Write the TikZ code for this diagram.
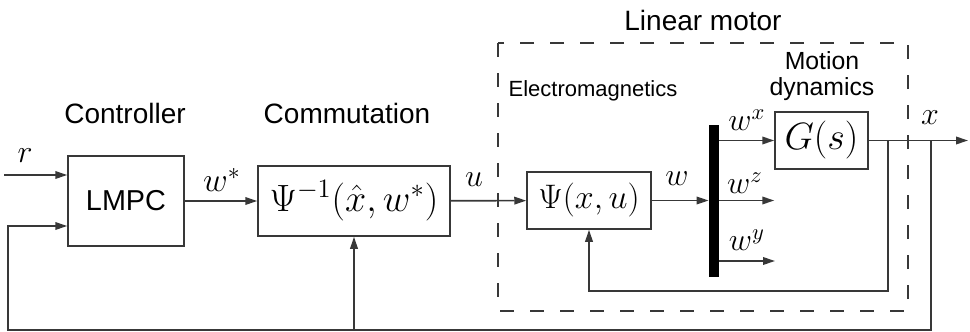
\RequirePackage{fix-cm}
\documentclass[tikz,border=0pt]{standalone}
\usepackage{fontspec}
\usepackage{amsmath}
\newfontfamily\labelsans{Liberation Sans}
\usetikzlibrary{arrows.meta,positioning,calc}

\definecolor{wiregray}{gray}{0.22}
\tikzset{
  block/.style={draw=wiregray, fill=white, line width=0.75pt, inner sep=0pt},
  wire/.style={draw=wiregray, line width=0.8pt, -{Triangle[length=6pt,width=3.8pt]}},
  headtext/.style={font=\labelsans\fontsize{14}{16}\selectfont},
  siglabel/.style={font=\fontsize{16}{19}\selectfont, inner sep=0pt}
}

\begin{document}
\begin{tikzpicture}[x=0.5pt, y=-0.5pt]
  \useasboundingbox (0,0) rectangle (970,332);

  % linear motor frame
  \draw[wiregray, line width=0.75pt, dash pattern=on 7pt off 8pt] (498,43) rectangle (908,311);

  % blocks
  \node (lmpc) [block, minimum width=58pt, minimum height=45pt] at (126,201) {\labelsans\fontsize{14.4}{17}\selectfont LMPC};
  \node (comm) [block, minimum width=96pt, minimum height=35pt] at (354,201) {\fontsize{19}{22}\selectfont $\Psi^{-1}(\hat{x},w^{*})$};
  \node (psi) [block, minimum width=62pt, minimum height=28.5pt] at (589,200.5) {\fontsize{17}{20}\selectfont $\Psi(x,u)$};
  \node (gs) [block, minimum width=46.5pt, minimum height=28.5pt] at (821.5,140.5) {\fontsize{19}{22}\selectfont $G(s)$};
  \node (bar) [fill=black, minimum width=5pt, minimum height=76pt, inner sep=0pt] at (714,201) {};

  % headings
  \node (ctrltxt) [headtext] at (125,113) {Controller};
  \node (commtxt) [headtext] at (347,113) {Commutation};
  \node (motortxt) [headtext] at (703,20) {Linear motor};
  \node (emtxt) [headtext, font=\labelsans\fontsize{11}{13}\selectfont] at (593,91) {Electromagnetics};
  \node (dyntxt) [headtext, font=\labelsans\fontsize{12.4}{13}\selectfont, align=center] at (822,76) {Motion\\dynamics};

  % signal labels
  \node (rtxt) [siglabel] at (25,156) {$r$};
  \node (wstxt) [siglabel, font=\fontsize{17}{20}\selectfont] at (222,180) {$w^{*}$};
  \node (utxt) [siglabel] at (474,180) {$u$};
  \node (wtxt) [siglabel] at (677,179) {$w$};
  \node (wxtxt) [siglabel] at (747,120) {$w^{x}$};
  \node (wztxt) [siglabel] at (745,183) {$w^{z}$};
  \node (wytxt) [siglabel] at (747,240) {$w^{y}$};
  \node (xtxt) [siglabel] at (930,118) {$x$};

  % helper points
  \coordinate (rin) at (4,175);
  \coordinate (fbin) at (0,226);
  \coordinate (fbl) at (8,330);
  \coordinate (wyend) at (775,261);
  \coordinate (xout) at (968,140.5);
  \coordinate (tapin) at (888,140.5);
  \coordinate (tapout) at (931,140.5);
  \coordinate (fbinner) at (0,291);

  % forward path
  \draw[wire] (rin) -- (lmpc.west |- rin);
  \draw[wire] (lmpc) -- (comm);
  \draw[wire] (comm) -- (psi);
  \draw[wire] (psi.east) -- (bar.west |- psi.east);
  \draw[wire] (bar.east |- gs.west) -- (gs.west);
  \draw[wire] (bar.east |- psi.east) -- (gs.west |- psi.east);
  \draw[wire] (bar.east |- wyend) -- (wyend);
  \draw[wire] (gs.east) -- (xout);

  % feedback
  \draw[wire] (tapin) |- (psi.south |- fbinner) -- (psi.south);
  \draw[wire] (tapout) |- (fbl) |- (lmpc.west |- fbin);
  \draw[wire] (comm.south |- fbl) -- (comm.south);
\end{tikzpicture}
\end{document}
